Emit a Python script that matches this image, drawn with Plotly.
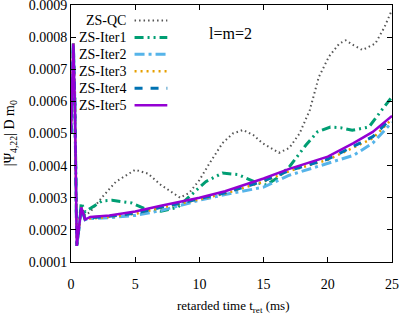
import plotly.graph_objects as go

# spike common to all runs near t=0
spike_t = [0.0, 0.1, 0.18, 0.3, 0.45, 0.6, 0.8, 1.1, 1.5]
spike_v = [0.0005, 0.00072, 0.00078, 0.0006, 0.00015, 0.0002, 0.00027, 0.000232, 0.00024]

qc_t = [0.8, 1.1, 1.5, 2.5, 3.5, 5.0, 6.0, 7.0, 8.5, 9.2, 10.0, 10.8, 11.8, 12.6, 13.4, 14.2, 14.9, 16.2, 17.0, 17.8, 18.6, 19.3, 20.1, 20.9, 21.4, 22.0, 22.7, 23.7, 24.4, 25.0]
qc_v = [0.000275, 0.000245, 0.000256, 0.000305, 0.00035, 0.000387, 0.000375, 0.00034, 0.0003, 0.000315, 0.000355, 0.000408, 0.00047, 0.0005, 0.000511, 0.000495, 0.00047, 0.00044, 0.000455, 0.0005, 0.000573, 0.000676, 0.00074, 0.00078, 0.00079, 0.000775, 0.00076, 0.00078, 0.00083, 0.000885]

it1_t = [0.8, 1.1, 1.6, 2.4, 3.2, 4.7, 5.8, 7.0, 8.3, 9.5, 10.5, 11.8, 13.0, 14.4, 15.2, 16.0, 17.0, 18.3, 19.2, 20.2, 21.0, 21.9, 23.2, 24.2, 25.0]
it1_v = [0.000284, 0.000256, 0.00027, 0.00029, 0.000292, 0.000284, 0.000265, 0.000258, 0.00027, 0.000315, 0.00035, 0.000377, 0.000372, 0.000348, 0.00034, 0.00036, 0.000396, 0.000464, 0.000505, 0.00052, 0.000518, 0.00051, 0.00052, 0.000573, 0.000614]

tail_t = [1.5, 3.0, 5.0, 7.0, 10.0, 12.0, 15.0, 17.0, 20.0, 22.0, 23.5, 25.0]
it2_v = [0.000235, 0.000238, 0.000245, 0.00026, 0.000292, 0.00031, 0.000333, 0.00037, 0.000408, 0.000432, 0.00047, 0.000535]
it3_v = [0.000235, 0.00024, 0.00025, 0.000268, 0.000296, 0.000313, 0.00035, 0.000383, 0.000418, 0.000455, 0.000485, 0.000545]
it4_v = [0.000238, 0.000242, 0.000252, 0.00027, 0.000297, 0.000315, 0.000352, 0.000385, 0.00042, 0.00046, 0.00049, 0.00055]
it5_v = [0.00024, 0.000245, 0.000257, 0.000275, 0.0003, 0.00032, 0.00036, 0.00039, 0.000428, 0.00047, 0.000505, 0.000555]

x_ticks = [0, 5, 10, 15, 20, 25]
y_ticks = [0.0001, 0.0002, 0.0003, 0.0004, 0.0005, 0.0006, 0.0007, 0.0008, 0.0009]
y_labels = ["0.0001", "0.0002", "0.0003", "0.0004", "0.0005", "0.0006", "0.0007", "0.0008", "0.0009"]

names = ["ZS-QC", "ZS-Iter1", "ZS-Iter2", "ZS-Iter3", "ZS-Iter4", "ZS-Iter5"]
colors = ["#555555", "#009e73", "#56b4e9", "#e69f00", "#0072b2", "#9400d3"]
dashes = ["1.5px,3px", "9px,4px,2px,4px,2px,4px", "10px,4px,3px,4px", "2px,4px", "8px,8px", "solid"]
widths = [2, 3, 3, 2.5, 3, 2.5]

series = [
    (spike_t[:6] + qc_t, spike_v[:6] + qc_v),
    (spike_t[:6] + it1_t, spike_v[:6] + it1_v),
    (spike_t[:-1] + tail_t, spike_v[:-1] + it2_v),
    (spike_t[:-1] + tail_t, spike_v[:-1] + it3_v),
    (spike_t[:-1] + tail_t, spike_v[:-1] + it4_v),
    (spike_t[:-1] + tail_t, spike_v[:-1] + it5_v),
]

fig = go.Figure()
for (t, v), n, c, d, w in zip(series, names, colors, dashes, widths):
    fig.add_trace(go.Scatter(x=t, y=v, mode="lines", name=n,
                             line=dict(color=c, dash=d, width=w),
                             showlegend=False))

font = "Liberation Serif, DejaVu Serif, serif"

# gnuplot-style key: text right-aligned, sample to the right
x_text = 0.178
x0, x1 = 0.198, 0.30
y_top = 0.94
step = 0.066
for i, (n, c, d, w) in enumerate(zip(names, colors, dashes, widths)):
    yy = y_top - i * step
    fig.add_annotation(x=x_text, y=yy, xref="paper", yref="paper", text=n,
                       showarrow=False, xanchor="right", yanchor="middle",
                       font=dict(family=font, size=14, color="black"))
    fig.add_shape(type="line", xref="paper", yref="paper", x0=x0, x1=x1, y0=yy, y1=yy,
                  line=dict(color=c, dash=d, width=w))

fig.add_annotation(x=0.425, y=0.89, xref="paper", yref="paper", text="l=m=2",
                   showarrow=False, xanchor="left", yanchor="middle",
                   font=dict(family=font, size=16, color="black"))

# axis titles
fig.add_annotation(x=-0.188, y=0.5, xref="paper", yref="paper",
                   text="|Ψ<sub>4,22</sub>| D m<sub>0</sub>", textangle=-90,
                   showarrow=False, xanchor="center", yanchor="middle",
                   font=dict(family=font, size=14, color="black"))
fig.add_annotation(x=0.506, y=-0.172, xref="paper", yref="paper",
                   text="retarded time t<sub>ret</sub> (ms)",
                   showarrow=False, xanchor="center", yanchor="middle",
                   font=dict(family=font, size=13, color="black"))

axis_common = dict(showline=True, linecolor="black", linewidth=1, mirror="allticks",
                   ticks="inside", ticklen=5, tickcolor="black", showgrid=False,
                   zeroline=False, automargin=False, ticklabeloverflow="allow",
                   tickfont=dict(family=font, size=14, color="black"))

fig.update_xaxes(range=[0, 25.0001], tickvals=x_ticks, ticklabelstandoff=9, **axis_common)
fig.update_yaxes(range=[0.0000999, 0.0009001], tickvals=y_ticks, ticktext=y_labels,
                 **axis_common)

fig.update_layout(width=399, height=314, margin=dict(l=71, r=7, t=5, b=52),
                  paper_bgcolor="white", plot_bgcolor="white")

fig.write_html("out.html", config={"displayModeBar": False},
               post_script="document.body.style.margin='0';document.body.style.padding='0';")
